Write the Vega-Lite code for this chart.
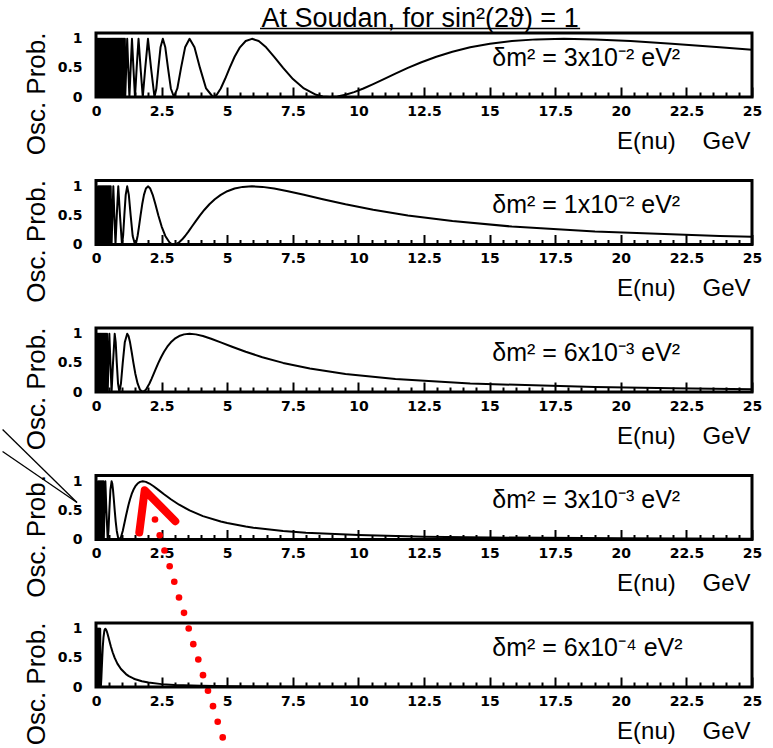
{
"background": "white",
"padding": {"left": 0, "top": 3, "right": 0, "bottom": 0},
"autosize": {"type": "pad"},
"bounds": "flush",
"spacing": 83.5,
"config": {"view": {"stroke": "black", "strokeWidth": 3}, "font": "Liberation Sans"},
"datasets": {
"curve": [
{"p":1,"e":0.04,"v":0},{"p":1,"e":0.06,"v":1},{"p":1,"e":0.08,"v":0},{"p":1,"e":0.1,"v":1},{"p":1,"e":0.12,"v":0},{"p":1,"e":0.14,"v":1},{"p":1,"e":0.16,"v":0},{"p":1,"e":0.18,"v":1},{"p":1,"e":0.2,"v":0},{"p":1,"e":0.22,"v":1},{"p":1,"e":0.24,"v":0},{"p":1,"e":0.26,"v":1},{"p":1,"e":0.28,"v":0},{"p":1,"e":0.3,"v":1},{"p":1,"e":0.32,"v":0},{"p":1,"e":0.34,"v":1},{"p":1,"e":0.36,"v":0},{"p":1,"e":0.38,"v":1},{"p":1,"e":0.4,"v":0},{"p":1,"e":0.42,"v":1},{"p":1,"e":0.44,"v":0},{"p":1,"e":0.46,"v":1},{"p":1,"e":0.48,"v":0},{"p":1,"e":0.5,"v":1},{"p":1,"e":0.52,"v":0},{"p":1,"e":0.54,"v":1},{"p":1,"e":0.56,"v":0},{"p":1,"e":0.58,"v":1},{"p":1,"e":0.6,"v":0},{"p":1,"e":0.62,"v":1},{"p":1,"e":0.64,"v":0},{"p":1,"e":0.66,"v":1},{"p":1,"e":0.68,"v":0},{"p":1,"e":0.7,"v":1},{"p":1,"e":0.72,"v":0},{"p":1,"e":0.74,"v":1},{"p":1,"e":0.76,"v":0},{"p":1,"e":0.78,"v":1},{"p":1,"e":0.8,"v":0},{"p":1,"e":0.82,"v":1},{"p":1,"e":0.84,"v":0},{"p":1,"e":0.86,"v":1},{"p":1,"e":0.88,"v":0},{"p":1,"e":0.9,"v":1},{"p":1,"e":0.92,"v":0},{"p":1,"e":0.94,"v":1},{"p":1,"e":0.96,"v":0},{"p":1,"e":0.98,"v":1},{"p":1,"e":1.0,"v":0},{"p":1,"e":1.02,"v":1},{"p":1,"e":1.04,"v":0},{"p":1,"e":1.06,"v":1},{"p":1,"e":1.08,"v":0},{"p":1,"e":1.1,"v":1},
{"p":1,"e":1.114,"v":0},{"p":1,"e":1.189,"v":1},
{"p":1,"e":1.229,"v":0.5},{"p":1,"e":1.273,"v":0},{"p":1,"e":1.321,"v":0.5},{"p":1,"e":1.371,"v":1},{"p":1,"e":1.426,"v":0.5},{"p":1,"e":1.486,"v":0},{"p":1,"e":1.55,"v":0.5},{"p":1,"e":1.621,"v":1},{"p":1,"e":1.698,"v":0.5},{"p":1,"e":1.783,"v":0},{"p":1,"e":1.877,"v":0.5},{"p":1,"e":1.981,"v":1},{"p":1,"e":2.097,"v":0.5},{"p":1,"e":2.228,"v":0},
{"p":1,"e":2.3,"v":0.1464},{"p":1,"e":2.377,"v":0.5},{"p":1,"e":2.459,"v":0.8536},{"p":1,"e":2.547,"v":1},{"p":1,"e":2.641,"v":0.8536},{"p":1,"e":2.743,"v":0.5},{"p":1,"e":2.852,"v":0.1464},{"p":1,"e":2.971,"v":0},{"p":1,"e":3.1,"v":0.1464},{"p":1,"e":3.241,"v":0.5},{"p":1,"e":3.396,"v":0.8536},{"p":1,"e":3.566,"v":1},{"p":1,"e":3.753,"v":0.8536},{"p":1,"e":3.962,"v":0.5},{"p":1,"e":4.195,"v":0.1464},{"p":1,"e":4.457,"v":0},
{"p":1,"e":4.601,"v":0.0381},{"p":1,"e":4.754,"v":0.1464},{"p":1,"e":4.918,"v":0.3087},{"p":1,"e":5.094,"v":0.5},{"p":1,"e":5.282,"v":0.6913},{"p":1,"e":5.485,"v":0.8536},{"p":1,"e":5.705,"v":0.9619},{"p":1,"e":5.943,"v":1},{"p":1,"e":6.201,"v":0.9619},{"p":1,"e":6.483,"v":0.8536},{"p":1,"e":6.791,"v":0.6913},{"p":1,"e":7.131,"v":0.5},{"p":1,"e":7.506,"v":0.3087},{"p":1,"e":7.923,"v":0.1464},{"p":1,"e":8.389,"v":0.0381},{"p":1,"e":8.644,"v":0.0096},{"p":1,"e":8.914,"v":0},{"p":1,"e":9.201,"v":0.0096},{"p":1,"e":9.508,"v":0.0381},{"p":1,"e":9.836,"v":0.0843},{"p":1,"e":10.19,"v":0.1464},{"p":1,"e":10.564,"v":0.2222},{"p":1,"e":10.97,"v":0.3087},{"p":1,"e":11.41,"v":0.4025},{"p":1,"e":11.885,"v":0.5},{"p":1,"e":12.402,"v":0.5975},{"p":1,"e":12.97,"v":0.6913},{"p":1,"e":13.583,"v":0.7778},{"p":1,"e":14.26,"v":0.8536},{"p":1,"e":15.013,"v":0.9157},{"p":1,"e":15.85,"v":0.9619},{"p":1,"e":16.779,"v":0.9904},{"p":1,"e":17.83,"v":1},{"p":1,"e":19.016,"v":0.9904},{"p":1,"e":20.37,"v":0.9619},{"p":1,"e":21.942,"v":0.9157},{"p":1,"e":23.77,"v":0.8536},{"p":1,"e":25,"v":0.8103},
{"p":2,"e":0.04,"v":1},{"p":2,"e":0.06,"v":0},{"p":2,"e":0.08,"v":1},{"p":2,"e":0.1,"v":0},{"p":2,"e":0.12,"v":1},{"p":2,"e":0.14,"v":0},{"p":2,"e":0.16,"v":1},{"p":2,"e":0.18,"v":0},{"p":2,"e":0.2,"v":1},{"p":2,"e":0.22,"v":0},{"p":2,"e":0.24,"v":1},{"p":2,"e":0.26,"v":0},{"p":2,"e":0.28,"v":1},{"p":2,"e":0.3,"v":0},{"p":2,"e":0.32,"v":1},{"p":2,"e":0.34,"v":0},{"p":2,"e":0.36,"v":1},{"p":2,"e":0.38,"v":0},{"p":2,"e":0.4,"v":1},{"p":2,"e":0.42,"v":0},{"p":2,"e":0.44,"v":1},{"p":2,"e":0.46,"v":0},{"p":2,"e":0.48,"v":1},{"p":2,"e":0.5,"v":0},{"p":2,"e":0.52,"v":1},{"p":2,"e":0.54,"v":0},{"p":2,"e":0.56,"v":1},
{"p":2,"e":0.594,"v":0},{"p":2,"e":0.626,"v":0.5},{"p":2,"e":0.66,"v":1},{"p":2,"e":0.699,"v":0.5},{"p":2,"e":0.743,"v":0},{"p":2,"e":0.792,"v":0.5},{"p":2,"e":0.849,"v":1},{"p":2,"e":0.914,"v":0.5},{"p":2,"e":0.99,"v":0},
{"p":2,"e":1.033,"v":0.1464},{"p":2,"e":1.08,"v":0.5},{"p":2,"e":1.132,"v":0.8536},{"p":2,"e":1.189,"v":1},{"p":2,"e":1.251,"v":0.8536},{"p":2,"e":1.321,"v":0.5},{"p":2,"e":1.398,"v":0.1464},{"p":2,"e":1.486,"v":0},
{"p":2,"e":1.534,"v":0.0381},{"p":2,"e":1.585,"v":0.1464},{"p":2,"e":1.639,"v":0.3087},{"p":2,"e":1.698,"v":0.5},{"p":2,"e":1.761,"v":0.6913},{"p":2,"e":1.828,"v":0.8536},{"p":2,"e":1.902,"v":0.9619},{"p":2,"e":1.981,"v":1},{"p":2,"e":2.067,"v":0.9619},{"p":2,"e":2.161,"v":0.8536},{"p":2,"e":2.264,"v":0.6913},{"p":2,"e":2.377,"v":0.5},{"p":2,"e":2.502,"v":0.3087},{"p":2,"e":2.641,"v":0.1464},{"p":2,"e":2.796,"v":0.0381},{"p":2,"e":2.881,"v":0.0096},{"p":2,"e":2.971,"v":0},{"p":2,"e":3.067,"v":0.0096},{"p":2,"e":3.169,"v":0.0381},{"p":2,"e":3.279,"v":0.0843},{"p":2,"e":3.396,"v":0.1464},{"p":2,"e":3.521,"v":0.2222},{"p":2,"e":3.657,"v":0.3087},{"p":2,"e":3.803,"v":0.4025},{"p":2,"e":3.962,"v":0.5},{"p":2,"e":4.134,"v":0.5975},{"p":2,"e":4.322,"v":0.6913},{"p":2,"e":4.528,"v":0.7778},{"p":2,"e":4.754,"v":0.8536},{"p":2,"e":5.004,"v":0.9157},{"p":2,"e":5.282,"v":0.9619},{"p":2,"e":5.593,"v":0.9904},{"p":2,"e":5.943,"v":1},{"p":2,"e":6.339,"v":0.9904},{"p":2,"e":6.791,"v":0.9619},{"p":2,"e":7.314,"v":0.9157},{"p":2,"e":7.923,"v":0.8536},{"p":2,"e":8.644,"v":0.7778},{"p":2,"e":9.508,"v":0.6913},{"p":2,"e":10.564,"v":0.5975},{"p":2,"e":11.885,"v":0.5},{"p":2,"e":13.583,"v":0.4025},{"p":2,"e":15.847,"v":0.3087},{"p":2,"e":19.016,"v":0.2222},{"p":2,"e":23.77,"v":0.1464},{"p":2,"e":25,"v":0.1331},
{"p":3,"e":0.04,"v":0},{"p":3,"e":0.06,"v":1},{"p":3,"e":0.08,"v":0},{"p":3,"e":0.1,"v":1},{"p":3,"e":0.12,"v":0},{"p":3,"e":0.14,"v":1},{"p":3,"e":0.16,"v":0},{"p":3,"e":0.18,"v":1},{"p":3,"e":0.2,"v":0},{"p":3,"e":0.22,"v":1},{"p":3,"e":0.24,"v":0},{"p":3,"e":0.26,"v":1},{"p":3,"e":0.28,"v":0},{"p":3,"e":0.3,"v":1},{"p":3,"e":0.32,"v":0},{"p":3,"e":0.34,"v":1},{"p":3,"e":0.36,"v":0},{"p":3,"e":0.38,"v":1},{"p":3,"e":0.4,"v":0},{"p":3,"e":0.42,"v":1},
{"p":3,"e":0.446,"v":0},
{"p":3,"e":0.475,"v":0.5},{"p":3,"e":0.509,"v":1},{"p":3,"e":0.549,"v":0.5},{"p":3,"e":0.594,"v":0},{"p":3,"e":0.648,"v":0.5},{"p":3,"e":0.713,"v":1},{"p":3,"e":0.751,"v":0.8536},{"p":3,"e":0.792,"v":0.5},{"p":3,"e":0.839,"v":0.1464},{"p":3,"e":0.891,"v":0},{"p":3,"e":0.951,"v":0.1464},{"p":3,"e":1.019,"v":0.5},{"p":3,"e":1.097,"v":0.8536},{"p":3,"e":1.189,"v":1},
{"p":3,"e":1.24,"v":0.9619},{"p":3,"e":1.297,"v":0.8536},{"p":3,"e":1.358,"v":0.6913},{"p":3,"e":1.426,"v":0.5},{"p":3,"e":1.501,"v":0.3087},{"p":3,"e":1.585,"v":0.1464},{"p":3,"e":1.678,"v":0.0381},{"p":3,"e":1.783,"v":0},{"p":3,"e":1.902,"v":0.0381},{"p":3,"e":2.037,"v":0.1464},{"p":3,"e":2.113,"v":0.2222},{"p":3,"e":2.194,"v":0.3087},{"p":3,"e":2.282,"v":0.4025},{"p":3,"e":2.377,"v":0.5},{"p":3,"e":2.48,"v":0.5975},{"p":3,"e":2.593,"v":0.6913},{"p":3,"e":2.717,"v":0.7778},{"p":3,"e":2.852,"v":0.8536},{"p":3,"e":3.003,"v":0.9157},{"p":3,"e":3.169,"v":0.9619},{"p":3,"e":3.356,"v":0.9904},{"p":3,"e":3.566,"v":1},{"p":3,"e":3.803,"v":0.9904},{"p":3,"e":4.075,"v":0.9619},{"p":3,"e":4.388,"v":0.9157},{"p":3,"e":4.754,"v":0.8536},{"p":3,"e":5.186,"v":0.7778},{"p":3,"e":5.705,"v":0.6913},{"p":3,"e":6.339,"v":0.5975},{"p":3,"e":7.131,"v":0.5},{"p":3,"e":8.15,"v":0.4025},{"p":3,"e":9.508,"v":0.3087},{"p":3,"e":11.41,"v":0.2222},{"p":3,"e":14.262,"v":0.1464},{"p":3,"e":19.016,"v":0.0843},{"p":3,"e":22,"v":0.0634},{"p":3,"e":25,"v":0.0494},
{"p":4,"e":0.04,"v":1},{"p":4,"e":0.06,"v":0},{"p":4,"e":0.08,"v":1},{"p":4,"e":0.1,"v":0},{"p":4,"e":0.12,"v":1},{"p":4,"e":0.14,"v":0},{"p":4,"e":0.16,"v":1},{"p":4,"e":0.18,"v":0},{"p":4,"e":0.2,"v":1},{"p":4,"e":0.22,"v":0},{"p":4,"e":0.24,"v":1},{"p":4,"e":0.26,"v":0},{"p":4,"e":0.28,"v":1},
{"p":4,"e":0.297,"v":0},
{"p":4,"e":0.324,"v":0.5},{"p":4,"e":0.357,"v":1},{"p":4,"e":0.396,"v":0.5},{"p":4,"e":0.446,"v":0},{"p":4,"e":0.475,"v":0.1464},{"p":4,"e":0.509,"v":0.5},{"p":4,"e":0.549,"v":0.8536},{"p":4,"e":0.594,"v":1},
{"p":4,"e":0.62,"v":0.9619},{"p":4,"e":0.648,"v":0.8536},{"p":4,"e":0.679,"v":0.6913},{"p":4,"e":0.713,"v":0.5},{"p":4,"e":0.751,"v":0.3087},{"p":4,"e":0.792,"v":0.1464},{"p":4,"e":0.839,"v":0.0381},{"p":4,"e":0.891,"v":0},{"p":4,"e":0.951,"v":0.0381},{"p":4,"e":1.019,"v":0.1464},{"p":4,"e":1.056,"v":0.2222},{"p":4,"e":1.097,"v":0.3087},{"p":4,"e":1.141,"v":0.4025},{"p":4,"e":1.189,"v":0.5},{"p":4,"e":1.24,"v":0.5975},{"p":4,"e":1.297,"v":0.6913},{"p":4,"e":1.358,"v":0.7778},{"p":4,"e":1.426,"v":0.8536},{"p":4,"e":1.501,"v":0.9157},{"p":4,"e":1.585,"v":0.9619},{"p":4,"e":1.678,"v":0.9904},{"p":4,"e":1.783,"v":1},{"p":4,"e":1.902,"v":0.9904},{"p":4,"e":2.037,"v":0.9619},{"p":4,"e":2.194,"v":0.9157},{"p":4,"e":2.377,"v":0.8536},{"p":4,"e":2.593,"v":0.7778},{"p":4,"e":2.852,"v":0.6913},{"p":4,"e":3.169,"v":0.5975},{"p":4,"e":3.566,"v":0.5},{"p":4,"e":4.075,"v":0.4025},{"p":4,"e":4.754,"v":0.3087},{"p":4,"e":5,"v":0.2821},{"p":4,"e":5.705,"v":0.2222},{"p":4,"e":6,"v":0.2025},{"p":4,"e":7.131,"v":0.1464},{"p":4,"e":8,"v":0.1176},{"p":4,"e":10,"v":0.0764},{"p":4,"e":12.5,"v":0.0494},{"p":4,"e":15,"v":0.0345},{"p":4,"e":20,"v":0.0195},{"p":4,"e":25,"v":0.0125},
{"p":5,"e":0.01,"v":0},{"p":5,"e":0.02,"v":1},{"p":5,"e":0.03,"v":0},{"p":5,"e":0.04,"v":1},{"p":5,"e":0.05,"v":0},{"p":5,"e":0.06,"v":1},{"p":5,"e":0.07,"v":0},{"p":5,"e":0.08,"v":1},{"p":5,"e":0.09,"v":0},{"p":5,"e":0.1,"v":1},{"p":5,"e":0.11,"v":0},{"p":5,"e":0.12,"v":1},{"p":5,"e":0.13,"v":0},{"p":5,"e":0.14,"v":1},{"p":5,"e":0.15,"v":0},{"p":5,"e":0.16,"v":1},
{"p":5,"e":0.178,"v":0},{"p":5,"e":0.19,"v":0.0381},{"p":5,"e":0.204,"v":0.1464},{"p":5,"e":0.219,"v":0.3087},{"p":5,"e":0.238,"v":0.5},{"p":5,"e":0.259,"v":0.6913},{"p":5,"e":0.285,"v":0.8536},{"p":5,"e":0.317,"v":0.9619},{"p":5,"e":0.3356,"v":0.9904},{"p":5,"e":0.3566,"v":1},{"p":5,"e":0.38,"v":0.9904},{"p":5,"e":0.4075,"v":0.9619},{"p":5,"e":0.439,"v":0.9157},{"p":5,"e":0.475,"v":0.8536},{"p":5,"e":0.519,"v":0.7778},{"p":5,"e":0.57,"v":0.6913},{"p":5,"e":0.634,"v":0.5975},{"p":5,"e":0.713,"v":0.5},{"p":5,"e":0.815,"v":0.4025},{"p":5,"e":0.951,"v":0.3087},{"p":5,"e":1.141,"v":0.2222},{"p":5,"e":1.25,"v":0.1877},{"p":5,"e":1.426,"v":0.1464},{"p":5,"e":1.5,"v":0.1331},{"p":5,"e":1.75,"v":0.099},{"p":5,"e":2,"v":0.0764},{"p":5,"e":2.5,"v":0.0494},{"p":5,"e":3,"v":0.0345},{"p":5,"e":4,"v":0.0195},{"p":5,"e":5,"v":0.0125},{"p":5,"e":7.5,"v":0.0056},{"p":5,"e":10,"v":0.0031},{"p":5,"e":15,"v":0.0014},{"p":5,"e":20,"v":0.0008},{"p":5,"e":25,"v":0.0005}
],
"labels": [
{"p":1,"t":"δm² = 3x10⁻² eV²"},
{"p":2,"t":"δm² = 1x10⁻² eV²"},
{"p":3,"t":"δm² = 6x10⁻³ eV²"},
{"p":4,"t":"δm² = 3x10⁻³ eV²"},
{"p":5,"t":"δm² = 6x10⁻⁴ eV²"}
],
"heading": [{"t":"At Soudan, for sin²(2ϑ) = 1"}],
"caret": [{"e":1.65,"v":0.12},{"e":1.856,"v":0.847},{"e":3.022,"v":0.314}],
"dots": [
{"e":2.248,"v":0.344},{"e":2.428,"v":0.074},{"e":2.61,"v":-0.189},{"e":2.808,"v":-0.459},{"e":2.984,"v":-0.727},{"e":3.163,"v":-0.997},{"e":3.354,"v":-1.26},{"e":3.533,"v":-1.529},{"e":3.708,"v":-1.799},{"e":3.899,"v":-2.062},{"e":4.078,"v":-2.332},{"e":4.268,"v":-2.6},{"e":4.459,"v":-2.864},{"e":4.638,"v":-3.132},{"e":4.829,"v":-3.402}
],
"pointer": [{"x":-3.56,"y":1.89,"x2":-0.724,"y2":0.636},{"x":-3.56,"y":1.512,"x2":-0.724,"y2":0.636}]
},
"vconcat": [
{"width":656,"height":64,
 "resolve":{"axis":{"x":"independent","y":"independent"}},
 "layer":[
  {"data":{"name":"curve"},"transform":[{"filter":"datum.p == 1"}],
   "mark":{"type":"line","color":"black","strokeWidth":2,"strokeJoin":"round"},
   "encoding":{
    "x":{"field":"e","type":"quantitative","scale":{"domain":[0,25],"nice":false,"zero":false},
     "axis":{"orient":"bottom","values":[0,2.5,5,7.5,10,12.5,15,17.5,20,22.5,25],"format":".3~g","domain":false,"grid":false,"ticks":true,"tickSize":-10,"tickWidth":2,"tickColor":"black","labelFont":"DejaVu Sans","labelFontWeight":"bold","labelFontSize":14,"labelColor":"black","labelPadding":17,"labelFlush":false,"labelOverlap":false,"title":"E(nu)\u00a0\u00a0\u00a0\u00a0GeV","titleFont":"Liberation Sans","titleFontSize":24,"titleFontWeight":"normal","titleColor":"black","titleX":654,"titleY":51,"titleAlign":"right","titleBaseline":"alphabetic"}},
    "y":{"field":"v","type":"quantitative","scale":{"domain":[0,1.1],"nice":false,"zero":false},
     "axis":{"orient":"left","values":[0,0.5,1],"format":".2~g","domain":false,"grid":false,"ticks":false,"labelFont":"DejaVu Sans","labelFontWeight":"bold","labelFontSize":14,"labelColor":"black","labelPadding":14,"title":"Osc. Prob.","titleFont":"Liberation Sans","titleFontSize":26,"titleFontWeight":"normal","titleColor":"black","titleX":-52,"titleY":-1,"titleAngle":-90,"titleAlign":"right","titleBaseline":"alphabetic"}}}},
  {"data":{"name":"labels"},"transform":[{"filter":"datum.p == 1"}],
   "mark":{"type":"text","align":"left","baseline":"alphabetic","font":"Liberation Sans","fontSize":25,"color":"black"},
   "encoding":{"text":{"field":"t"},
    "x":{"datum":15.1,"type":"quantitative","scale":{"domain":[0,25],"nice":false,"zero":false},
     "axis":{"orient":"bottom","values":[0.5,1,1.5,2,3,3.5,4,4.5,5.5,6,6.5,7,8,8.5,9,9.5,10.5,11,11.5,12,13,13.5,14,14.5,15.5,16,16.5,17,18,18.5,19,19.5,20.5,21,21.5,22,23,23.5,24,24.5],"labels":false,"domain":false,"grid":false,"ticks":true,"tickSize":-5,"tickWidth":2,"tickColor":"black","title":null}},
    "y":{"datum":0.54,"type":"quantitative","scale":{"domain":[0,1.1],"nice":false,"zero":false},"axis":null}}},
  {"data":{"name":"heading"},
   "mark":{"type":"text","align":"center","baseline":"alphabetic","font":"Liberation Sans","fontSize":27,"color":"black"},
   "encoding":{"text":{"field":"t"},"x":{"datum":12.35,"type":"quantitative","axis":null},"y":{"datum":1.203,"type":"quantitative","axis":null}}},
  {"data":{"name":"heading"},
   "mark":{"type":"rule","color":"black","strokeWidth":1.5},
   "encoding":{"x":{"datum":6.25,"type":"quantitative","axis":null},"x2":{"datum":18.45},"y":{"datum":1.177,"type":"quantitative","axis":null}}}
 ]},
{"width":656,"height":64,
 "resolve":{"axis":{"x":"independent","y":"independent"}},
 "layer":[
  {"data":{"name":"curve"},"transform":[{"filter":"datum.p == 2"}],
   "mark":{"type":"line","color":"black","strokeWidth":2,"strokeJoin":"round"},
   "encoding":{
    "x":{"field":"e","type":"quantitative","scale":{"domain":[0,25],"nice":false,"zero":false},
     "axis":{"orient":"bottom","values":[0,2.5,5,7.5,10,12.5,15,17.5,20,22.5,25],"format":".3~g","domain":false,"grid":false,"ticks":true,"tickSize":-10,"tickWidth":2,"tickColor":"black","labelFont":"DejaVu Sans","labelFontWeight":"bold","labelFontSize":14,"labelColor":"black","labelPadding":17,"labelFlush":false,"labelOverlap":false,"title":"E(nu)\u00a0\u00a0\u00a0\u00a0GeV","titleFont":"Liberation Sans","titleFontSize":24,"titleFontWeight":"normal","titleColor":"black","titleX":654,"titleY":51,"titleAlign":"right","titleBaseline":"alphabetic"}},
    "y":{"field":"v","type":"quantitative","scale":{"domain":[0,1.1],"nice":false,"zero":false},
     "axis":{"orient":"left","values":[0,0.5,1],"format":".2~g","domain":false,"grid":false,"ticks":false,"labelFont":"DejaVu Sans","labelFontWeight":"bold","labelFontSize":14,"labelColor":"black","labelPadding":14,"title":"Osc. Prob.","titleFont":"Liberation Sans","titleFontSize":26,"titleFontWeight":"normal","titleColor":"black","titleX":-52,"titleY":-1,"titleAngle":-90,"titleAlign":"right","titleBaseline":"alphabetic"}}}},
  {"data":{"name":"labels"},"transform":[{"filter":"datum.p == 2"}],
   "mark":{"type":"text","align":"left","baseline":"alphabetic","font":"Liberation Sans","fontSize":25,"color":"black"},
   "encoding":{"text":{"field":"t"},
    "x":{"datum":15.1,"type":"quantitative","scale":{"domain":[0,25],"nice":false,"zero":false},
     "axis":{"orient":"bottom","values":[0.5,1,1.5,2,3,3.5,4,4.5,5.5,6,6.5,7,8,8.5,9,9.5,10.5,11,11.5,12,13,13.5,14,14.5,15.5,16,16.5,17,18,18.5,19,19.5,20.5,21,21.5,22,23,23.5,24,24.5],"labels":false,"domain":false,"grid":false,"ticks":true,"tickSize":-5,"tickWidth":2,"tickColor":"black","title":null}},
    "y":{"datum":0.54,"type":"quantitative","scale":{"domain":[0,1.1],"nice":false,"zero":false},"axis":null}}}
 ]},
{"width":656,"height":64,
 "resolve":{"axis":{"x":"independent","y":"independent"}},
 "layer":[
  {"data":{"name":"curve"},"transform":[{"filter":"datum.p == 3"}],
   "mark":{"type":"line","color":"black","strokeWidth":2,"strokeJoin":"round"},
   "encoding":{
    "x":{"field":"e","type":"quantitative","scale":{"domain":[0,25],"nice":false,"zero":false},
     "axis":{"orient":"bottom","values":[0,2.5,5,7.5,10,12.5,15,17.5,20,22.5,25],"format":".3~g","domain":false,"grid":false,"ticks":true,"tickSize":-10,"tickWidth":2,"tickColor":"black","labelFont":"DejaVu Sans","labelFontWeight":"bold","labelFontSize":14,"labelColor":"black","labelPadding":17,"labelFlush":false,"labelOverlap":false,"title":"E(nu)\u00a0\u00a0\u00a0\u00a0GeV","titleFont":"Liberation Sans","titleFontSize":24,"titleFontWeight":"normal","titleColor":"black","titleX":654,"titleY":51,"titleAlign":"right","titleBaseline":"alphabetic"}},
    "y":{"field":"v","type":"quantitative","scale":{"domain":[0,1.1],"nice":false,"zero":false},
     "axis":{"orient":"left","values":[0,0.5,1],"format":".2~g","domain":false,"grid":false,"ticks":false,"labelFont":"DejaVu Sans","labelFontWeight":"bold","labelFontSize":14,"labelColor":"black","labelPadding":14,"title":"Osc. Prob.","titleFont":"Liberation Sans","titleFontSize":26,"titleFontWeight":"normal","titleColor":"black","titleX":-52,"titleY":-1,"titleAngle":-90,"titleAlign":"right","titleBaseline":"alphabetic"}}}},
  {"data":{"name":"labels"},"transform":[{"filter":"datum.p == 3"}],
   "mark":{"type":"text","align":"left","baseline":"alphabetic","font":"Liberation Sans","fontSize":25,"color":"black"},
   "encoding":{"text":{"field":"t"},
    "x":{"datum":15.1,"type":"quantitative","scale":{"domain":[0,25],"nice":false,"zero":false},
     "axis":{"orient":"bottom","values":[0.5,1,1.5,2,3,3.5,4,4.5,5.5,6,6.5,7,8,8.5,9,9.5,10.5,11,11.5,12,13,13.5,14,14.5,15.5,16,16.5,17,18,18.5,19,19.5,20.5,21,21.5,22,23,23.5,24,24.5],"labels":false,"domain":false,"grid":false,"ticks":true,"tickSize":-5,"tickWidth":2,"tickColor":"black","title":null}},
    "y":{"datum":0.54,"type":"quantitative","scale":{"domain":[0,1.1],"nice":false,"zero":false},"axis":null}}}
 ]},
{"width":656,"height":64,
 "resolve":{"axis":{"x":"independent","y":"independent"}},
 "layer":[
  {"data":{"name":"curve"},"transform":[{"filter":"datum.p == 4"}],
   "mark":{"type":"line","color":"black","strokeWidth":2,"strokeJoin":"round"},
   "encoding":{
    "x":{"field":"e","type":"quantitative","scale":{"domain":[0,25],"nice":false,"zero":false},
     "axis":{"orient":"bottom","values":[0,2.5,5,7.5,10,12.5,15,17.5,20,22.5,25],"format":".3~g","domain":false,"grid":false,"ticks":true,"tickSize":-10,"tickWidth":2,"tickColor":"black","labelFont":"DejaVu Sans","labelFontWeight":"bold","labelFontSize":14,"labelColor":"black","labelPadding":17,"labelFlush":false,"labelOverlap":false,"title":"E(nu)\u00a0\u00a0\u00a0\u00a0GeV","titleFont":"Liberation Sans","titleFontSize":24,"titleFontWeight":"normal","titleColor":"black","titleX":654,"titleY":51,"titleAlign":"right","titleBaseline":"alphabetic"}},
    "y":{"field":"v","type":"quantitative","scale":{"domain":[0,1.1],"nice":false,"zero":false},
     "axis":{"orient":"left","values":[0,0.5,1],"format":".2~g","domain":false,"grid":false,"ticks":false,"labelFont":"DejaVu Sans","labelFontWeight":"bold","labelFontSize":14,"labelColor":"black","labelPadding":14,"title":"Osc. Prob.","titleFont":"Liberation Sans","titleFontSize":26,"titleFontWeight":"normal","titleColor":"black","titleX":-52,"titleY":-1,"titleAngle":-90,"titleAlign":"right","titleBaseline":"alphabetic"}}}},
  {"data":{"name":"labels"},"transform":[{"filter":"datum.p == 4"}],
   "mark":{"type":"text","align":"left","baseline":"alphabetic","font":"Liberation Sans","fontSize":25,"color":"black"},
   "encoding":{"text":{"field":"t"},
    "x":{"datum":15.1,"type":"quantitative","scale":{"domain":[0,25],"nice":false,"zero":false},
     "axis":{"orient":"bottom","values":[0.5,1,1.5,2,3,3.5,4,4.5,5.5,6,6.5,7,8,8.5,9,9.5,10.5,11,11.5,12,13,13.5,14,14.5,15.5,16,16.5,17,18,18.5,19,19.5,20.5,21,21.5,22,23,23.5,24,24.5],"labels":false,"domain":false,"grid":false,"ticks":true,"tickSize":-5,"tickWidth":2,"tickColor":"black","title":null}},
    "y":{"datum":0.54,"type":"quantitative","scale":{"domain":[0,1.1],"nice":false,"zero":false},"axis":null}}},
  {"data":{"name":"caret"},
   "mark":{"type":"line","color":"#ff0000","strokeWidth":8,"strokeCap":"round","strokeJoin":"round"},
   "encoding":{"x":{"field":"e","type":"quantitative","scale":{"domain":[0,25],"nice":false,"zero":false},"axis":null},"y":{"field":"v","type":"quantitative","scale":{"domain":[0,1.1],"nice":false,"zero":false},"axis":null}}},
  {"data":{"name":"dots"},
   "mark":{"type":"point","filled":true,"color":"#ff0000","opacity":1,"size":44,"shape":"circle"},
   "encoding":{"x":{"field":"e","type":"quantitative","scale":{"domain":[0,25],"nice":false,"zero":false},"axis":null},"y":{"field":"v","type":"quantitative","scale":{"domain":[0,1.1],"nice":false,"zero":false},"axis":null}}},
  {"data":{"name":"pointer"},
   "mark":{"type":"rule","color":"black","strokeWidth":1.3},
   "encoding":{"x":{"field":"x","type":"quantitative","scale":{"domain":[0,25],"nice":false,"zero":false},"axis":null},"x2":{"field":"x2"},"y":{"field":"y","type":"quantitative","scale":{"domain":[0,1.1],"nice":false,"zero":false},"axis":null},"y2":{"field":"y2"}}}
 ]},
{"width":656,"height":64,
 "resolve":{"axis":{"x":"independent","y":"independent"}},
 "layer":[
  {"data":{"name":"curve"},"transform":[{"filter":"datum.p == 5"}],
   "mark":{"type":"line","color":"black","strokeWidth":2,"strokeJoin":"round"},
   "encoding":{
    "x":{"field":"e","type":"quantitative","scale":{"domain":[0,25],"nice":false,"zero":false},
     "axis":{"orient":"bottom","values":[0,2.5,5,7.5,10,12.5,15,17.5,20,22.5,25],"format":".3~g","domain":false,"grid":false,"ticks":true,"tickSize":-10,"tickWidth":2,"tickColor":"black","labelFont":"DejaVu Sans","labelFontWeight":"bold","labelFontSize":14,"labelColor":"black","labelPadding":17,"labelFlush":false,"labelOverlap":false,"title":"E(nu)\u00a0\u00a0\u00a0\u00a0GeV","titleFont":"Liberation Sans","titleFontSize":24,"titleFontWeight":"normal","titleColor":"black","titleX":654,"titleY":51,"titleAlign":"right","titleBaseline":"alphabetic"}},
    "y":{"field":"v","type":"quantitative","scale":{"domain":[0,1.1],"nice":false,"zero":false},
     "axis":{"orient":"left","values":[0,0.5,1],"format":".2~g","domain":false,"grid":false,"ticks":false,"labelFont":"DejaVu Sans","labelFontWeight":"bold","labelFontSize":14,"labelColor":"black","labelPadding":14,"title":"Osc. Prob.","titleFont":"Liberation Sans","titleFontSize":26,"titleFontWeight":"normal","titleColor":"black","titleX":-52,"titleY":-1,"titleAngle":-90,"titleAlign":"right","titleBaseline":"alphabetic"}}}},
  {"data":{"name":"labels"},"transform":[{"filter":"datum.p == 5"}],
   "mark":{"type":"text","align":"left","baseline":"alphabetic","font":"Liberation Sans","fontSize":25,"color":"black"},
   "encoding":{"text":{"field":"t"},
    "x":{"datum":15.1,"type":"quantitative","scale":{"domain":[0,25],"nice":false,"zero":false},
     "axis":{"orient":"bottom","values":[0.5,1,1.5,2,3,3.5,4,4.5,5.5,6,6.5,7,8,8.5,9,9.5,10.5,11,11.5,12,13,13.5,14,14.5,15.5,16,16.5,17,18,18.5,19,19.5,20.5,21,21.5,22,23,23.5,24,24.5],"labels":false,"domain":false,"grid":false,"ticks":true,"tickSize":-5,"tickWidth":2,"tickColor":"black","title":null}},
    "y":{"datum":0.54,"type":"quantitative","scale":{"domain":[0,1.1],"nice":false,"zero":false},"axis":null}}}
 ]}
]
}
